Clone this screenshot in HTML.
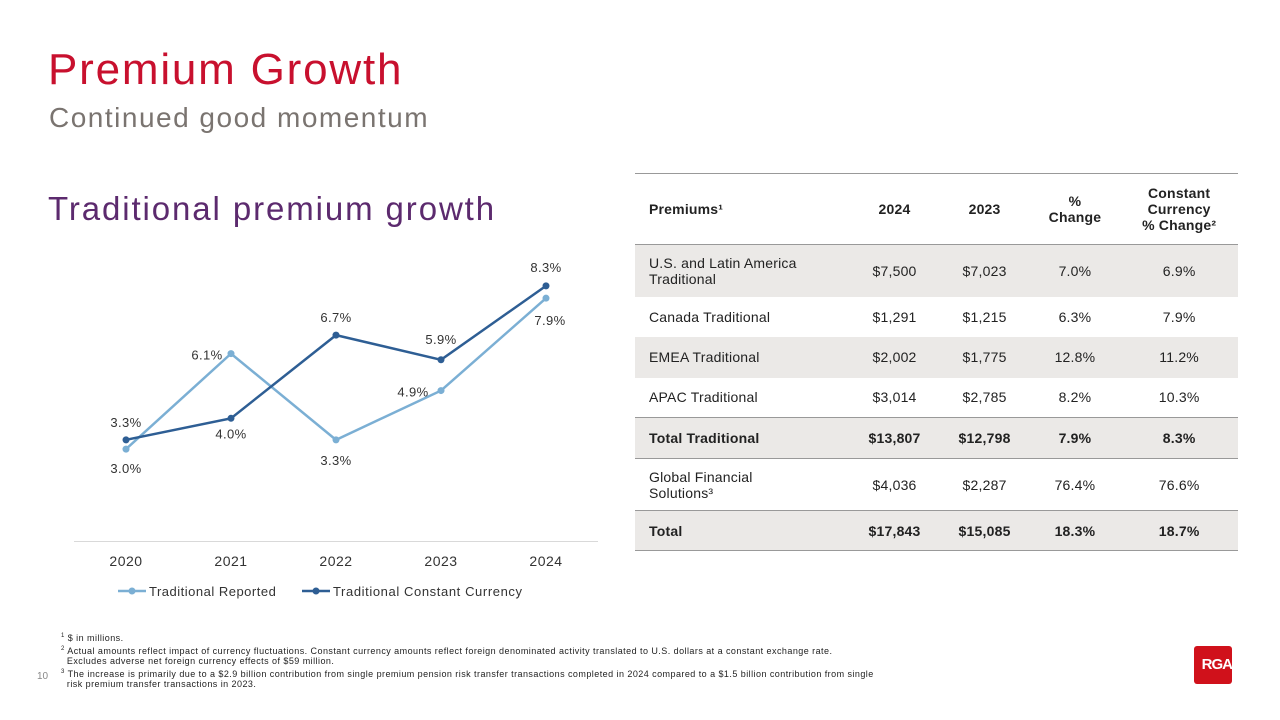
<!DOCTYPE html>
<html><head><meta charset="utf-8"><style>
body{margin:0;width:1280px;height:720px;background:#fff;font-family:"Liberation Sans",sans-serif;position:relative;overflow:hidden}
.abs{position:absolute}
table{border-collapse:collapse;font-size:14px;color:#222;letter-spacing:0.2px}
td{padding:0 10px}
</style></head><body>
<div class="abs" style="left:48px;top:45px;font-size:44px;letter-spacing:1.8px;color:#c8102e">Premium Growth</div>
<div class="abs" style="left:49px;top:102px;font-size:28px;letter-spacing:1.5px;color:#7a7470">Continued good momentum</div>
<div class="abs" style="left:48px;top:190px;font-size:33px;letter-spacing:1.9px;color:#5c2a6e">Traditional premium growth</div>

<svg class="abs" style="left:0;top:0" width="640" height="620">
<g id="g"></g></svg>

<table class="abs" style="left:635px;top:173px;width:603px">
<tr style="height:71px;border-top:1px solid #999;font-weight:bold;text-align:center"><td style="text-align:left;padding-left:14px">Premiums¹</td><td>2024</td><td>2023</td><td>%<br>Change</td><td>Constant<br>Currency<br>% Change²</td></tr>
<tr style="height:52px;background:#ebe9e7;border-top:1px solid #999;text-align:center"><td style="text-align:left;padding-left:14px">U.S. and Latin America<br>Traditional</td><td>$7,500</td><td>$7,023</td><td>7.0%</td><td>6.9%</td></tr>
<tr style="height:40px;text-align:center"><td style="text-align:left;padding-left:14px">Canada Traditional</td><td>$1,291</td><td>$1,215</td><td>6.3%</td><td>7.9%</td></tr>
<tr style="height:41px;background:#ebe9e7;text-align:center"><td style="text-align:left;padding-left:14px">EMEA Traditional</td><td>$2,002</td><td>$1,775</td><td>12.8%</td><td>11.2%</td></tr>
<tr style="height:40px;text-align:center"><td style="text-align:left;padding-left:14px">APAC Traditional</td><td>$3,014</td><td>$2,785</td><td>8.2%</td><td>10.3%</td></tr>
<tr style="height:41px;background:#ebe9e7;font-weight:bold;border-top:1px solid #999;border-bottom:1px solid #999;text-align:center"><td style="text-align:left;padding-left:14px">Total Traditional</td><td>$13,807</td><td>$12,798</td><td>7.9%</td><td>8.3%</td></tr>
<tr style="height:52px;text-align:center"><td style="text-align:left;padding-left:14px">Global Financial<br>Solutions³</td><td>$4,036</td><td>$2,287</td><td>76.4%</td><td>76.6%</td></tr>
<tr style="height:40px;background:#ebe9e7;font-weight:bold;border-top:1px solid #999;border-bottom:1px solid #999;text-align:center"><td style="text-align:left;padding-left:14px">Total</td><td>$17,843</td><td>$15,085</td><td>18.3%</td><td>18.7%</td></tr>
</table>

<div class="abs" style="left:61px;top:631px;font-size:9px;letter-spacing:0.45px;line-height:10.5px;color:#222;width:880px">
<div><sup style="font-size:6px">1</sup> $ in millions.</div>
<div><sup style="font-size:6px">2</sup> Actual amounts reflect impact of currency fluctuations. Constant currency amounts reflect foreign denominated activity translated to U.S. dollars at a constant exchange rate.<br>&nbsp;&nbsp;Excludes adverse net foreign currency effects of $59 million.</div>
<div><sup style="font-size:6px">3</sup> The increase is primarily due to a $2.9 billion contribution from single premium pension risk transfer transactions completed in 2024 compared to a $1.5 billion contribution from single<br>&nbsp;&nbsp;risk premium transfer transactions in 2023.</div>
</div>
<div class="abs" style="left:37px;top:671px;font-size:10px;color:#888">10</div>
<div class="abs" style="left:1194px;top:646px;width:38px;height:38px;background:#d0111b;border-radius:3px;color:#fff;font-weight:bold;font-size:15px;line-height:38px;text-align:right;letter-spacing:-1px">RGA</div>

<script>
const categories=["2020","2021","2022","2023","2024"];
const reported=[3.0,6.1,3.3,4.9,7.9];
const constant=[3.3,4.0,6.7,5.9,8.3];
const ns="http://www.w3.org/2000/svg";
const g=document.getElementById('g');
const xS=i=>126+i*105;
const yS=v=>541.5-v*30.8;
function mk(t,a){const e=document.createElementNS(ns,t);for(const k in a)e.setAttribute(k,a[k]);g.appendChild(e);return e;}
const ax=mk('line',{x1:74,x2:598,y1:541.5,y2:541.5,stroke:'#d9d9d9'});


categories.forEach((c,i)=>{const t=mk('text',{x:xS(i),y:566,'text-anchor':'middle','font-size':14,'letter-spacing':0.5,fill:'#333','font-family':'Liberation Sans'});t.textContent=c;

});
function series(vals,color,name,offs){
 const p=mk('polyline',{points:vals.map((v,i)=>xS(i)+','+yS(v)).join(' '),fill:'none',stroke:color,'stroke-width':2.5});
 
 
 vals.forEach((v,i)=>{const c=mk('circle',{cx:xS(i),cy:yS(v),r:3.5,fill:color});
 
 
 const t=mk('text',{x:xS(i)+offs[i][0],y:yS(v)+offs[i][1],'text-anchor':'middle','font-size':13,'letter-spacing':0.4,fill:'#333','font-family':'Liberation Sans'});t.textContent=v.toFixed(1)+'%';
 
 });
}
series(reported,'#7bafd4','reported',[[0,24],[-24,6],[0,25],[-28,6],[4,27]]);
series(constant,'#2e5e94','constant',[[0,-13],[0,20],[0,-13],[0,-16],[0,-14]]);
const l1=mk('line',{x1:118,x2:146,y1:591,y2:591,stroke:'#7bafd4','stroke-width':2.5});


mk('circle',{cx:132,cy:591,r:3.5,fill:'#7bafd4'});
const t1=mk('text',{x:149,y:596,'font-size':13,'letter-spacing':0.5,fill:'#333','font-family':'Liberation Sans'});t1.textContent='Traditional Reported';


const l2=mk('line',{x1:302,x2:330,y1:591,y2:591,stroke:'#2e5e94','stroke-width':2.5});


mk('circle',{cx:316,cy:591,r:3.5,fill:'#2e5e94'});
const t2=mk('text',{x:333,y:596,'font-size':13,'letter-spacing':0.6,fill:'#333','font-family':'Liberation Sans'});t2.textContent='Traditional Constant Currency';


</script>
</body></html>
